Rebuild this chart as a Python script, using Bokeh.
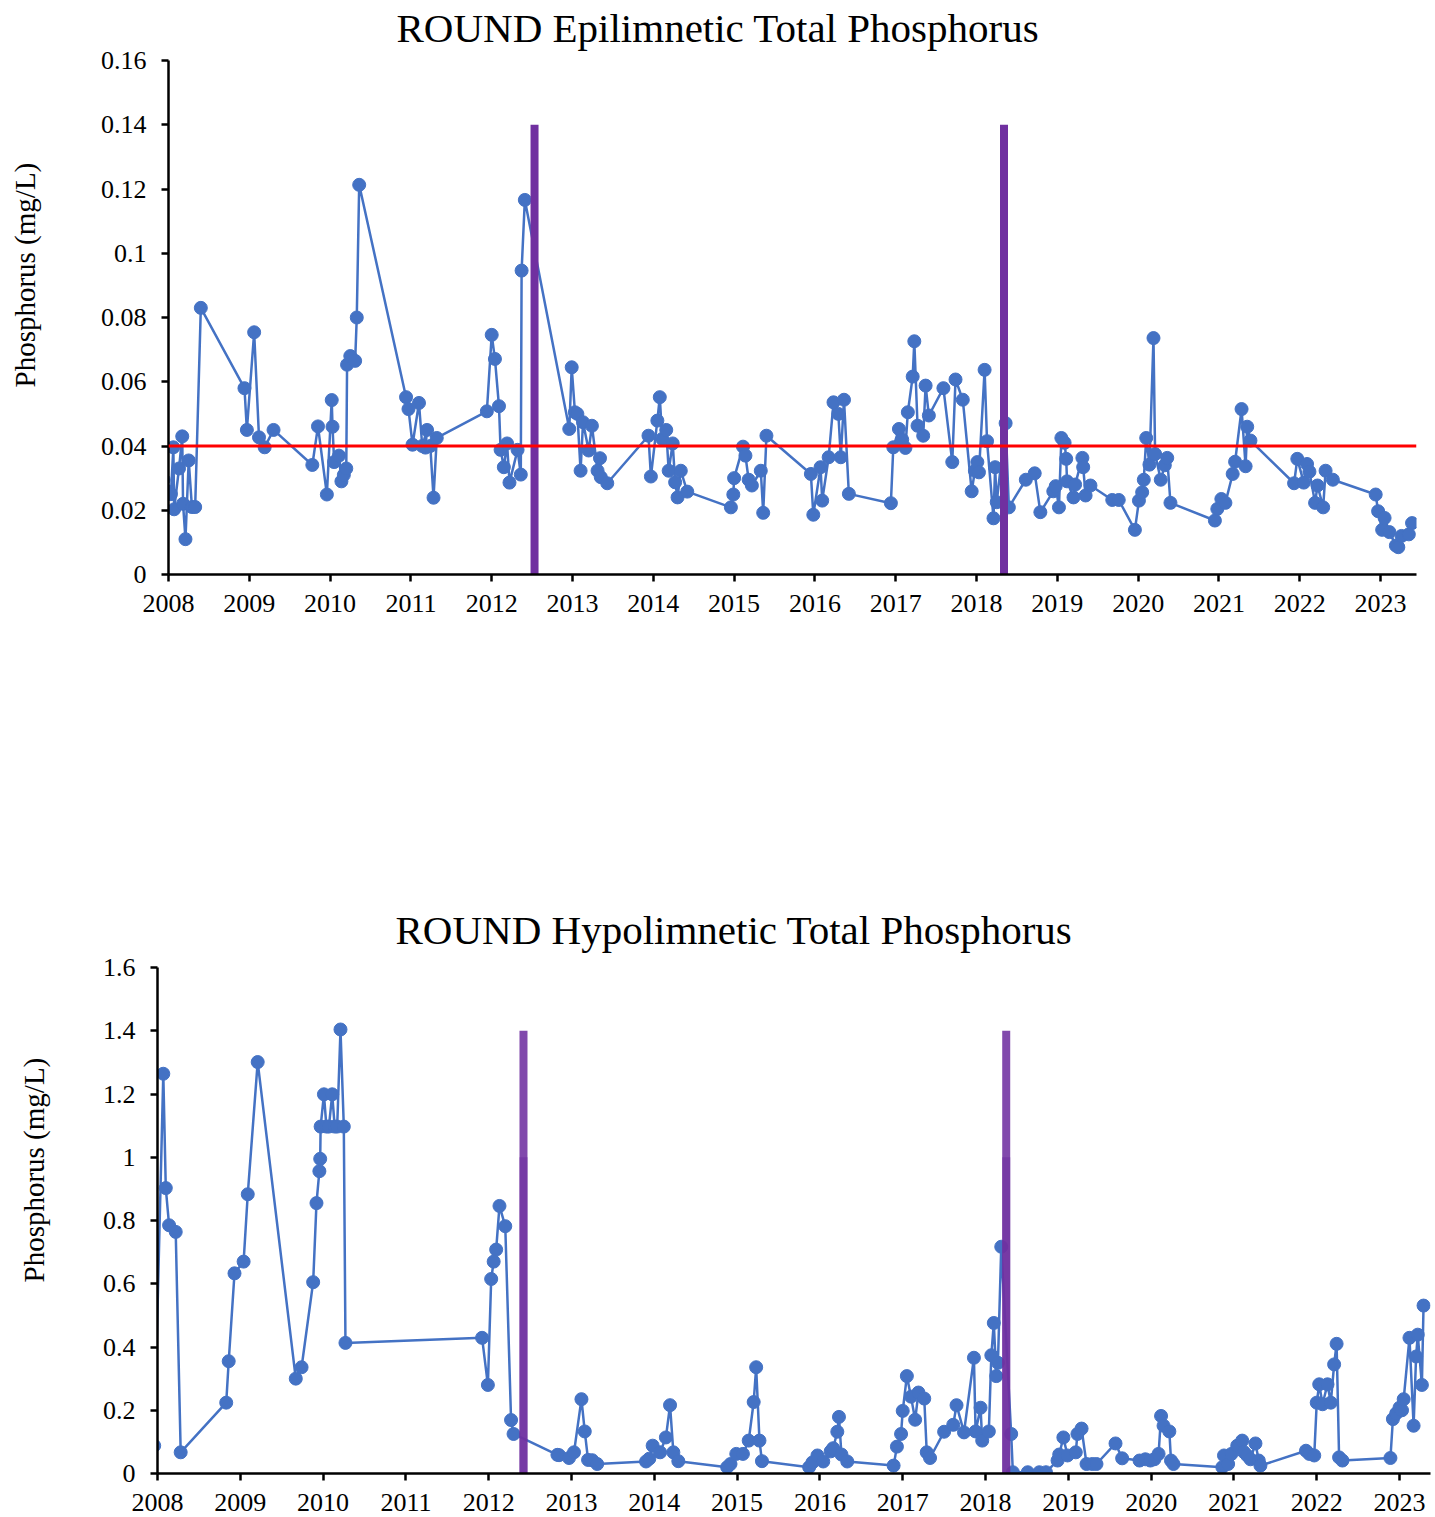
import math
from bokeh.plotting import figure
from bokeh.models import Span, Title, FixedTicker, Range1d, CustomJSTickFormatter
from bokeh.embed import file_html
from bokeh.resources import INLINE

FONT = "Liberation Serif"

# ---------------- data ----------------
EPI_DATES = [
    2007.94, 2007.98, 2008.03, 2008.06, 2008.07, 2008.13, 2008.17, 2008.18, 2008.21, 2008.25,
    2008.29, 2008.33, 2008.40, 2008.94, 2008.97, 2009.06, 2009.12, 2009.19, 2009.30, 2009.78,
    2009.85, 2009.96, 2010.02, 2010.03, 2010.05, 2010.11, 2010.14, 2010.17, 2010.20, 2010.21,
    2010.25, 2010.31, 2010.33, 2010.36, 2010.94, 2010.97, 2011.02, 2011.10, 2011.14, 2011.20,
    2011.18, 2011.24, 2011.28, 2011.32, 2011.94, 2012.00, 2012.04, 2012.09, 2012.11, 2012.15,
    2012.19, 2012.22, 2012.32, 2012.36, 2012.37, 2012.41, 2012.96, 2012.99, 2013.03, 2013.06,
    2013.10, 2013.13, 2013.20, 2013.24, 2013.31, 2013.34, 2013.35, 2013.43, 2013.94, 2013.97,
    2014.05, 2014.08, 2014.11, 2014.16, 2014.19, 2014.24, 2014.27, 2014.30, 2014.34, 2014.42,
    2014.96, 2014.99, 2015.00, 2015.11, 2015.14, 2015.18, 2015.22, 2015.33, 2015.36, 2015.40,
    2015.95, 2015.98, 2016.07, 2016.09, 2016.17, 2016.23, 2016.29, 2016.32, 2016.36, 2016.42,
    2016.94, 2016.97, 2017.04, 2017.08, 2017.12, 2017.15, 2017.21, 2017.23, 2017.27, 2017.34,
    2017.37, 2017.41, 2017.59, 2017.70, 2017.74, 2017.83, 2017.94, 2017.98, 2018.01, 2018.03,
    2018.10, 2018.13, 2018.21, 2018.23, 2018.25, 2018.36, 2018.40, 2018.61, 2018.72, 2018.79,
    2018.95, 2018.98, 2019.02, 2019.05, 2019.09, 2019.11, 2019.12, 2019.20, 2019.22, 2019.31,
    2019.32, 2019.35, 2019.41, 2019.68, 2019.76, 2019.96, 2020.01, 2020.05, 2020.07, 2020.10,
    2020.14, 2020.19, 2020.21, 2020.28, 2020.33, 2020.36, 2020.40, 2020.95, 2020.98, 2021.03,
    2021.08, 2021.17, 2021.20, 2021.28, 2021.33, 2021.35, 2021.39, 2021.93, 2021.97, 2022.05,
    2022.09, 2022.12, 2022.19, 2022.22, 2022.29, 2022.32, 2022.41, 2022.94, 2022.97, 2023.02,
    2023.05, 2023.11, 2023.19, 2023.22, 2023.26, 2023.35, 2023.39,
]
EPI_TP = [
    0.0295, 0.026, 0.025, 0.0396, 0.0203, 0.033, 0.043, 0.022, 0.011, 0.0355,
    0.021, 0.021, 0.083, 0.058, 0.045, 0.0754, 0.0427, 0.0396, 0.045, 0.0341,
    0.0461, 0.0249, 0.0543, 0.046, 0.035, 0.037, 0.029, 0.031, 0.033, 0.0653,
    0.068, 0.0665, 0.080, 0.1213, 0.0552, 0.0515, 0.0404, 0.0534, 0.040, 0.045,
    0.0395, 0.040, 0.0239, 0.0425, 0.0508, 0.0746, 0.0671, 0.0524, 0.0388, 0.0334,
    0.0408, 0.0286, 0.0388, 0.0311, 0.0946, 0.1166, 0.0453, 0.0645, 0.0505, 0.050,
    0.0323, 0.0474, 0.0386, 0.0463, 0.0323, 0.0362, 0.0303, 0.0284, 0.0432, 0.0305,
    0.0479, 0.0552, 0.0422, 0.045, 0.0323, 0.0408, 0.0287, 0.024, 0.0323, 0.0258,
    0.0209, 0.0249, 0.030, 0.0398, 0.037, 0.0295, 0.0277, 0.0323, 0.0192, 0.0432,
    0.0313, 0.0186, 0.0334, 0.023, 0.0365, 0.0536, 0.050, 0.0365, 0.0544, 0.0251,
    0.0222, 0.0396, 0.0453, 0.042, 0.0394, 0.0505, 0.0616, 0.0726, 0.0463, 0.0432,
    0.0588, 0.0495, 0.058, 0.035, 0.0607, 0.0544, 0.0259, 0.0323, 0.035, 0.0318,
    0.0637, 0.0415, 0.0175, 0.0334, 0.0225, 0.0471, 0.0209, 0.0295, 0.0315, 0.0194,
    0.0259, 0.0275, 0.0209, 0.0425, 0.041, 0.036, 0.029, 0.024, 0.028, 0.0363,
    0.0334, 0.0246, 0.0277, 0.0232, 0.0232, 0.0139, 0.023, 0.0256, 0.0295, 0.0425,
    0.0342, 0.0736, 0.0375, 0.0295, 0.034, 0.0363, 0.0223, 0.0168, 0.0204, 0.0235,
    0.0223, 0.0313, 0.0351, 0.0515, 0.0337, 0.046, 0.0417, 0.0284, 0.036, 0.0286,
    0.0344, 0.032, 0.0223, 0.0277, 0.0209, 0.0323, 0.0295, 0.0249, 0.0197, 0.0139,
    0.0176, 0.0132, 0.009, 0.0085, 0.012, 0.0125, 0.016,
]

HYPO_DATES = [
    2007.96, 2008.07, 2008.10, 2008.14, 2008.22, 2008.28, 2008.83, 2008.86, 2008.93, 2009.04,
    2009.09, 2009.21, 2009.67, 2009.74, 2009.88, 2009.92, 2009.955, 2009.965, 2009.97, 2010.01,
    2010.04, 2010.07, 2010.11, 2010.14, 2010.17, 2010.21, 2010.25, 2010.27, 2011.92, 2011.99,
    2012.03, 2012.06, 2012.09, 2012.13, 2012.20, 2012.27, 2012.30, 2012.83, 2012.85, 2012.97,
    2013.03, 2013.12, 2013.16, 2013.20, 2013.25, 2013.31, 2013.90, 2013.94, 2013.98, 2014.07,
    2014.14, 2014.19, 2014.23, 2014.29, 2014.88, 2014.92, 2014.99, 2015.07, 2015.14, 2015.20,
    2015.23, 2015.27, 2015.30, 2015.87, 2015.91, 2015.97, 2016.04, 2016.13, 2016.16, 2016.21,
    2016.23, 2016.26, 2016.33, 2016.89, 2016.93, 2016.98, 2017.00, 2017.05, 2017.10, 2017.15,
    2017.19, 2017.26, 2017.29, 2017.33, 2017.50, 2017.61, 2017.65, 2017.74, 2017.86, 2017.88,
    2017.94, 2017.96, 2018.04, 2018.07, 2018.10, 2018.13, 2018.15, 2018.19, 2018.31, 2018.33,
    2018.51, 2018.65, 2018.73, 2018.87, 2018.89, 2018.94, 2018.99, 2019.09, 2019.11, 2019.16,
    2019.22, 2019.29, 2019.34, 2019.57, 2019.65, 2019.86, 2019.93, 2019.99, 2020.04, 2020.09,
    2020.12, 2020.15, 2020.22, 2020.24, 2020.27, 2020.86, 2020.88, 2020.93, 2020.97, 2021.04,
    2021.10, 2021.12, 2021.16, 2021.20, 2021.26, 2021.30, 2021.32, 2021.87, 2021.91, 2021.97,
    2022.00, 2022.03, 2022.07, 2022.13, 2022.17, 2022.21, 2022.24, 2022.27, 2022.31, 2022.89,
    2022.92, 2022.96, 2023.00, 2023.03, 2023.05, 2023.12, 2023.17, 2023.20, 2023.22, 2023.27,
    2023.29,
]
HYPO_TP = [
    0.088, 1.264, 0.9025, 0.785, 0.764, 0.067, 0.224, 0.355, 0.633, 0.67,
    0.883, 1.301, 0.30, 0.336, 0.605, 0.855, 0.956, 0.995, 1.097, 1.199,
    1.097, 1.097, 1.199, 1.097, 1.097, 1.404, 1.097, 0.413, 0.429, 0.28,
    0.615, 0.67, 0.708, 0.846, 0.782, 0.169, 0.125, 0.059, 0.058, 0.049,
    0.067, 0.235, 0.133, 0.043, 0.042, 0.03, 0.038, 0.047, 0.088, 0.067,
    0.114, 0.216, 0.067, 0.039, 0.02, 0.03, 0.062, 0.062, 0.104, 0.226,
    0.336, 0.104, 0.039, 0.02, 0.035, 0.057, 0.038, 0.07, 0.08, 0.132,
    0.179, 0.06, 0.038, 0.025, 0.085, 0.125, 0.198, 0.308, 0.243, 0.17,
    0.256, 0.237, 0.067, 0.049, 0.132, 0.154, 0.216, 0.13, 0.366, 0.133,
    0.208, 0.104, 0.133, 0.374, 0.476, 0.308, 0.35, 0.717, 0.125, 0.004,
    0.004, 0.004, 0.004, 0.041, 0.06, 0.114, 0.057, 0.067, 0.125, 0.142,
    0.03, 0.03, 0.03, 0.095, 0.048, 0.041, 0.045, 0.041, 0.045, 0.062,
    0.182, 0.151, 0.133, 0.041, 0.03, 0.02, 0.057, 0.03, 0.062, 0.088,
    0.104, 0.068, 0.057, 0.045, 0.095, 0.041, 0.025, 0.072, 0.062, 0.057,
    0.224, 0.282, 0.219, 0.282, 0.224, 0.345, 0.41, 0.051, 0.041, 0.049,
    0.172, 0.19, 0.208, 0.2, 0.235, 0.429, 0.151, 0.37, 0.439, 0.28,
    0.531,
]

YEARS = list(range(2008, 2024))
EPI_YTICKS = [0, 0.02, 0.04, 0.06, 0.08, 0.1, 0.12, 0.14, 0.16]
HYPO_YTICKS = [0, 0.2, 0.4, 0.6, 0.8, 1.0, 1.2, 1.4, 1.6]
THRESHOLD = 0.04
TREAT_EPI = [2012.53, 2018.34]
TREAT_EPI_TOP = [0.14, 0.14]
TREAT_HYPO = [2012.42, 2018.25]
TREAT_HYPO_TOP = [1.4, 1.4]
TREAT_HYPO_TOP2 = [1.0, 1.0]
Y_LABEL = "Phosphorus (mg/L)"

BLUE = "#4472C4"
PURPLE = "#7030A0"


def make(title, x_end, y_end, yticks, width, height, borders, title_offset, title_standoff,
         ylab_offset, ylab_gap):
    left, right, top, bottom = borders
    p = figure(width=width, height=height, output_backend="svg", toolbar_location=None,
               x_range=Range1d(2008, x_end), y_range=Range1d(0, y_end),
               min_border_left=left, min_border_right=right,
               min_border_top=top, min_border_bottom=bottom)
    p.title.text = title
    p.title.text_font = FONT
    p.title.text_font_size = "41px"
    p.title.text_font_style = "normal"
    p.title.align = "left"
    p.title.offset = title_offset
    p.title.standoff = title_standoff
    p.title.text_color = "black"
    p.outline_line_color = None
    p.grid.visible = False
    for ax in (p.xaxis, p.yaxis):
        ax.axis_line_width = 2.5
        ax.axis_line_color = "black"
        ax.major_tick_line_width = 2.5
        ax.major_tick_line_color = "black"
        ax.major_tick_out = 7
        ax.major_tick_in = 0
        ax.minor_tick_line_color = None
        ax.major_label_text_font = FONT
        ax.major_label_text_font_size = "26px"
        ax.major_label_text_color = "black"
    p.xaxis.ticker = FixedTicker(ticks=YEARS)
    p.xaxis.formatter = CustomJSTickFormatter(code="return tick.toFixed(0);")
    p.xaxis.major_label_standoff = 13
    p.yaxis.ticker = FixedTicker(ticks=yticks)
    p.yaxis.formatter = CustomJSTickFormatter(code="return String(parseFloat(tick.toFixed(3)));")
    p.yaxis.major_label_standoff = 15
    # blank (non-breaking space) axis label only reserves room between tick labels and title
    p.yaxis.axis_label = "\u00a0"
    p.yaxis.axis_label_text_font_size = "1px"
    p.yaxis.axis_label_standoff = ylab_gap
    p.add_layout(Title(text=Y_LABEL, align="left", offset=ylab_offset, standoff=10,
                       text_font=FONT, text_font_size="29px", text_font_style="normal",
                       text_color="black"), "left")
    return p


p1 = make("ROUND Epilimnetic Total Phosphorus", 2023.445, 0.16, EPI_YTICKS,
          1435, 710, (168, 19, 70, 126), 228, 20, 187, 48)
p1.margin = (-10, 0, 0, 0)
p1.add_layout(Span(location=THRESHOLD, dimension="width", line_color="#FF0000", line_width=3))
p1.line(EPI_DATES, EPI_TP, line_color=BLUE, line_width=2.5)
p1.scatter(EPI_DATES, EPI_TP, size=13, fill_color=BLUE, line_color=BLUE)
p1.segment(x0=TREAT_EPI, y0=[0, 0], x1=TREAT_EPI, y1=TREAT_EPI_TOP, line_color=PURPLE, line_width=8)

p2 = make("ROUND Hypolimnetic Total Phosphorus", 2023.374, 1.6, HYPO_YTICKS,
          1435, 837, (157, 5, 267, 64), 238, 30, 191, 41)
p2.line(HYPO_DATES, HYPO_TP, line_color=BLUE, line_width=2.5)
p2.scatter(HYPO_DATES, HYPO_TP, size=13, fill_color=BLUE, line_color=BLUE)
p2.segment(x0=TREAT_HYPO, y0=[0, 0], x1=TREAT_HYPO, y1=TREAT_HYPO_TOP, line_color=PURPLE,
           line_width=8, line_alpha=0.88)
p2.segment(x0=TREAT_HYPO, y0=[0, 0], x1=TREAT_HYPO, y1=TREAT_HYPO_TOP2, line_color=PURPLE,
           line_width=8, line_alpha=0.6)

open("out.html", "w").write(file_html([p1, p2], INLINE))
